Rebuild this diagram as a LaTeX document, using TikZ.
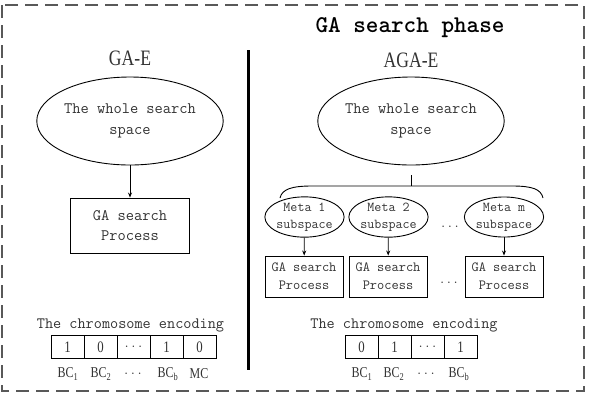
\documentclass[tikz,border=0pt]{standalone}
\usepackage{fontspec}
\newfontfamily\cnd[FakeStretch=0.8]{Liberation Serif}
\usetikzlibrary{shapes.geometric,arrows.meta}
\begin{document}
\begin{tikzpicture}[x=1pt,y=-1pt,
  txt/.style={text=black!80, inner sep=0pt, align=center},
  bigell/.style={ellipse, draw, line width=0.9pt, minimum width=178pt, minimum height=88pt, inner sep=0pt, text=black!80, align=center, font=\ttfamily\fontsize{16}{21}\selectfont},
  bigbox/.style={rectangle, draw, line width=0.9pt, minimum width=119pt, minimum height=55pt, inner sep=0pt, text=black!80, align=center, font=\ttfamily\fontsize{16}{20}\selectfont},
  metaell/.style={ellipse, draw, line width=0.9pt, minimum width=79pt, minimum height=36pt, inner sep=0pt, text=black!80, align=center, font=\ttfamily\fontsize{13.6}{17}\selectfont},
  smallbox/.style={rectangle, draw, line width=0.9pt, minimum width=78pt, minimum height=41pt, inner sep=0pt, text=black!80, align=center, font=\ttfamily\fontsize{14}{18}\selectfont},
  cell/.style={rectangle, draw, line width=0.9pt, minimum width=33pt, minimum height=22.5pt, inner sep=0pt, text=black!80, font=\cnd\fontsize{16}{16}\selectfont},
  lbl/.style={inner sep=0pt, text=black!80, font=\cnd\fontsize{15}{15}\selectfont},
  encl/.style={inner sep=0pt, text=black!80, font=\ttfamily\fontsize{15.8}{16}\selectfont},
  arr/.style={-{Stealth[length=5pt,width=4pt]}, line width=0.8pt},
  dotsl/.style={inner sep=0pt, text=black!80, font=\ttfamily\fontsize{13}{13}\selectfont}
]
\useasboundingbox (0,0) rectangle (591,408);
% outer frame
\draw[black!65, line width=1.3pt, dash pattern=on 13pt off 7pt] (2,5) rectangle (584,391);
% divider
\coordinate (dtop) at (248,50);
\coordinate (dbot) at (248,370);
\draw[line width=3pt] (dtop) -- (dbot);
% title
\node[txt, font=\ttfamily\bfseries\fontsize{24}{24}\selectfont, text=black] (title) at (410,28) {GA search phase};
\node[txt, font=\cnd\fontsize{22}{22}\selectfont] (gae) at (130,58) {GA-E};
\node[txt, font=\cnd\fontsize{22}{22}\selectfont] (agae) at (411,60) {AGA-E};
% left column
\node[bigell] (lell) at (130,121) {The whole search\\space};
\node[bigbox] (lbox) at (130,225.5) {GA search\\Process};
\draw[arr] (lell) -- (lbox);
% right column
\node[bigell] (rell) at (411,121) {The whole search\\space};
\coordinate (rstem) at (411,175);
\coordinate (bmid) at (411,186);
\draw[line width=0.8pt] (rstem) -- (bmid);
\coordinate (bl) at (280,198);
\coordinate (br) at (543,198);
\draw[line width=0.9pt] (bl) .. controls (282,189) and (292,186) .. (312,186) -- (bmid) -- (512,186) .. controls (532,186) and (541,189) .. (br);
\node[metaell] (m1) at (304.5,217) {Meta 1\\subspace};
\node[metaell] (m2) at (388.5,217) {Meta 2\\subspace};
\node[metaell] (mm) at (504,217) {Meta m\\subspace};
\node[dotsl] (mdots) at (450,227) {...};
\node[smallbox] (b1) at (304,276.5) {GA search\\Process};
\node[smallbox] (b2) at (388,276.5) {GA search\\Process};
\node[smallbox] (bm) at (504,276.5) {GA search\\Process};
\node[dotsl] (bdots) at (449,283) {...};
\draw[arr] (m1) -- (b1);
\draw[arr] (m2) -- (b2);
\draw[arr] (mm) -- (bm);
% left encoding
\node[encl] (lenc) at (130.5,325) {The chromosome encoding};
\node[cell] (lc1) at (67.5,347) {1};
\node[cell] (lc2) at (100.5,347) {0};
\node[cell, font=\ttfamily\fontsize{13}{13}\selectfont] (lc3) at (133.5,347) {...};
\node[cell] (lc4) at (166.5,347) {1};
\node[cell] (lc5) at (199.5,347) {0};
\node[lbl] (ll1) at (68,374) {BC\textsubscript{1}};
\node[lbl] (ll2) at (101,374) {BC\textsubscript{2}};
\node[dotsl] (ll3) at (133,374) {...};
\node[lbl] (ll4) at (168,374) {BC\textsubscript{b}};
\node[lbl] (ll5) at (199,374) {MC};
% right encoding
\node[encl] (renc) at (404,325) {The chromosome encoding};
\node[cell] (rc1) at (361.5,347) {0};
\node[cell] (rc2) at (394.5,347) {1};
\node[cell, font=\ttfamily\fontsize{13}{13}\selectfont] (rc3) at (427.5,347) {...};
\node[cell] (rc4) at (460.5,347) {1};
\node[lbl] (rl1) at (362,374) {BC\textsubscript{1}};
\node[lbl] (rl2) at (394,374) {BC\textsubscript{2}};
\node[dotsl] (rl3) at (426,374) {...};
\node[lbl] (rl4) at (459,374) {BC\textsubscript{b}};
\end{tikzpicture}
\end{document}
